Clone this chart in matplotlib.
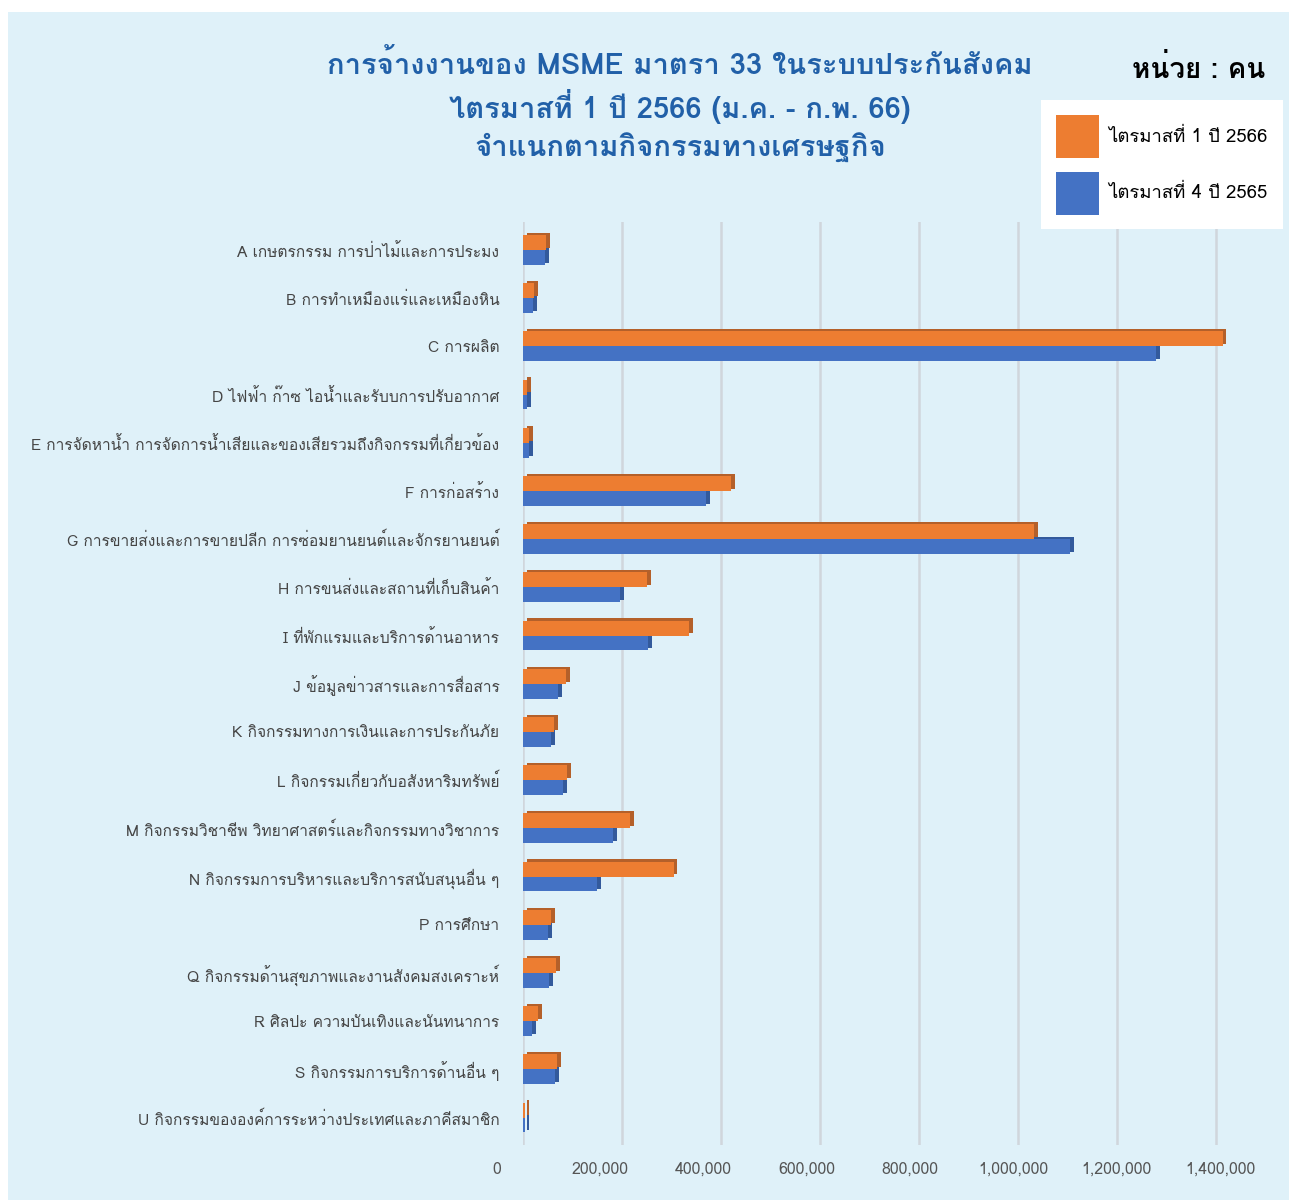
import matplotlib
matplotlib.use('Agg')
import matplotlib.pyplot as plt
from matplotlib import font_manager
from matplotlib.ft2font import FT2Font
from matplotlib.patches import Rectangle, Patch

# ข้อมูลการจ้างงาน (คน)
categories = [
    'A เกษตรกรรม การป่าไม้และการประมง',
    'B การทำเหมืองแร่และเหมืองหิน',
    'C การผลิต',
    'D ไฟฟ้า ก๊าซ ไอน้ำและรับบการปรับอากาศ',
    'E การจัดหาน้ำ การจัดการน้ำเสียและของเสียรวมถึงกิจกรรมที่เกี่ยวข้อง',
    'F การก่อสร้าง',
    'G การขายส่งและการขายปลีก การซ่อมยานยนต์และจักรยานยนต์',
    'H การขนส่งและสถานที่เก็บสินค้า',
    'I ที่พักแรมและบริการด้านอาหาร',
    'J ข้อมูลข่าวสารและการสื่อสาร',
    'K กิจกรรมทางการเงินและการประกันภัย',
    'L กิจกรรมเกี่ยวกับอสังหาริมทรัพย์',
    'M กิจกรรมวิชาชีพ วิทยาศาสตร์และกิจกรรมทางวิชาการ',
    'N กิจกรรมการบริหารและบริการสนับสนุนอื่น ๆ',
    'P การศึกษา',
    'Q กิจกรรมด้านสุขภาพและงานสังคมสงเคราะห์',
    'R ศิลปะ ความบันเทิงและนันทนาการ',
    'S กิจกรรมการบริการด้านอื่น ๆ',
    'U กิจกรรมขององค์การระหว่างประเทศและภาคีสมาชิก',
]
q1_2566 = [47000, 22000, 1414000, 8000, 12000, 421000, 1033000, 251000,
           336000, 87000, 63000, 89000, 217000, 304000, 57000, 67000,
           30000, 69000, 4000]
q4_2565 = [45000, 20000, 1279000, 8000, 12000, 369000, 1104000, 196000,
           253000, 71000, 57000, 81000, 182000, 150000, 51000, 53000,
           18000, 65000, 4000]
series_names = ['ไตรมาสที่ 1 ปี 2566', 'ไตรมาสที่ 4 ปี 2565']
xticks = [0, 200000, 400000, 600000, 800000, 1000000, 1200000, 1400000]
title_lines = [
    'การจ้างงานของ MSME มาตรา 33 ในระบบประกันสังคม',
    'ไตรมาสที่ 1 ปี 2566 (ม.ค. - ก.พ. 66)',
    'จำแนกตามกิจกรรมทางเศรษฐกิจ',
]


def thai_family():
    # หาฟอนต์ที่มีอักษรไทย
    for f in font_manager.fontManager.ttflist:
        try:
            if 0x0E01 in FT2Font(f.fname).get_charmap():
                return f.name
        except Exception:
            pass
    return None


th = thai_family()
fams = [th, 'DejaVu Sans'] if th else ['Noto Sans', 'DejaVu Sans']
plt.rcParams['font.family'] = fams

W, H = 1291, 1203
ORANGE, BLUE = '#ed7d31', '#4472c4'
ORANGE_D, BLUE_D = '#b4602a', '#335a9c'
BG = '#dff1f9'

fig = plt.figure(figsize=(W / 100, H / 100), dpi=100, facecolor='white')
fig.patches.append(Rectangle((8 / W, 3 / H), (W - 10) / W, (H - 15) / H,
                             transform=fig.transFigure, facecolor=BG,
                             edgecolor='none', zorder=-10))

ax = fig.add_axes([523 / W, (H - 1145) / H, (1226 - 523) / W, (1145 - 222) / H])
ax.set_facecolor('none')
xmax = 1420000
ax.set_xlim(0, xmax)
n = len(categories)
ax.set_ylim(18.57, -0.58)

ys = list(range(n))
h = 0.31
dx = 8000
dy = 0.045
y_or = [y - h / 2 for y in ys]
y_bl = [y + h / 2 for y in ys]

# ด้านข้างแบบสามมิติ
ax.barh([y - dy for y in y_or], q1_2566, left=dx, height=h, color=ORANGE_D, zorder=2)
ax.barh([y - dy for y in y_bl], q4_2565, left=dx, height=h, color=BLUE_D, zorder=2)
ax.barh(y_bl, q4_2565, height=h, color=BLUE, zorder=3)
ax.barh(y_or, q1_2566, height=h, color=ORANGE, zorder=4)

ax.set_xticks(xticks)
ax.set_xticklabels([])
ax.tick_params(axis='x', length=0)
ax.grid(axis='x', color='#d0d6dc', linewidth=1.8, zorder=0)
ax.set_axisbelow(True)
ax.set_yticks(ys)
ax.set_yticklabels(categories, fontsize=11.2, color='#454545')
ax.tick_params(axis='y', length=0, pad=17)
for s in ax.spines.values():
    s.set_visible(False)

# แกนค่าที่พื้นด้านหน้า
floor = fig.add_axes([497 / W, (H - 1156) / H, (1220 - 497) / W, 0.0005])
floor.set_xlim(0, 1400000)
floor.set_xticks(xticks)
floor.set_xticklabels(['{:,}'.format(v) for v in xticks], fontsize=11.5,
                      color='#555555')
floor.tick_params(axis='x', length=0, pad=4)
floor.set_yticks([])
floor.patch.set_visible(False)
for s in floor.spines.values():
    s.set_visible(False)

for i, line in enumerate(title_lines):
    fig.text(680 / W, 1 - (65 + 41 * i) / H, line, ha='center', va='center',
             fontsize=21, fontweight='bold', color='#2160a8')

fig.text(1265 / W, 1 - 68 / H, 'หน่วย : คน', ha='right', va='center',
         fontsize=20, fontweight='bold', color='black')

handles = [Patch(facecolor=ORANGE), Patch(facecolor=BLUE)]
leg = fig.legend(handles, series_names, loc='upper left',
                 bbox_to_anchor=(1041 / W, 1 - 100 / H), frameon=True,
                 fancybox=False, fontsize=13.3, handlelength=2.35,
                 handleheight=3.2, handletextpad=0.5, labelspacing=0.75,
                 borderpad=0.8, borderaxespad=0)
leg.get_frame().set_facecolor('white')
leg.get_frame().set_edgecolor('none')
leg.get_frame().set_alpha(1)

fig.savefig('out.png', dpi=100, facecolor='white')
